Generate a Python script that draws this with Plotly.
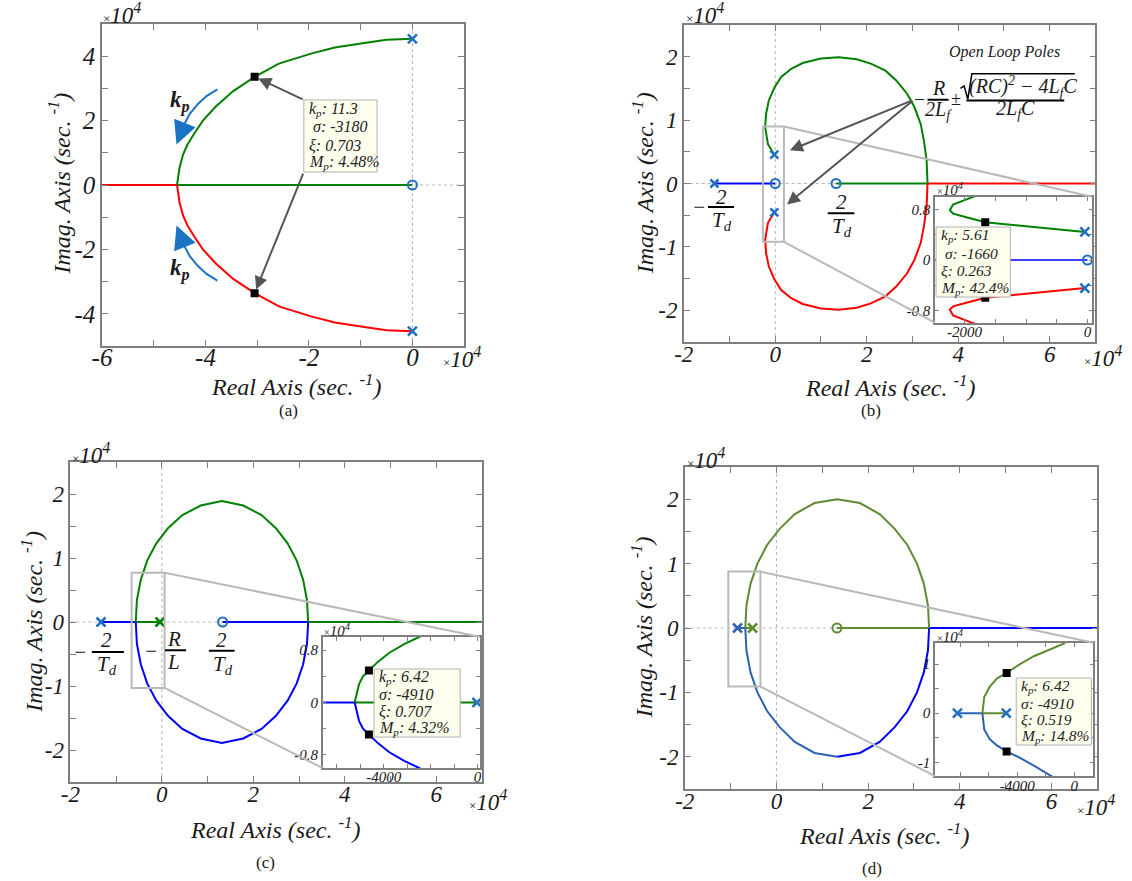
import plotly.graph_objects as go

W, H = 1132, 881
SERIF = "Liberation Serif, Times New Roman, serif"

GREEN, RED, BLUE = "#008000", "#ff0000", "#0000ff"
MBLUE, OLIVE, STEEL = "#1f6fc2", "#5f8b32", "#2c62b0"
KPBLUE = "#1a73c4"
FRAME = "#7f7f7f"
ZGREY = "#b9b9b9"

# ================= DATA =================
# ---- panel (a) ----
a_branch_x = [0.0, -0.5, -0.93, -1.5, -1.96, -2.58, -3.05, -3.47, -3.81, -4.05, -4.22, -4.35, -4.43, -4.50, -4.55]
a_upper_y = [4.54, 4.51, 4.41, 4.27, 4.08, 3.77, 3.36, 2.91, 2.42, 2.0, 1.59, 1.25, 0.96, 0.55, 0.0]
a_lower_y = [-4.54, -4.51, -4.41, -4.27, -4.08, -3.77, -3.36, -2.91, -2.42, -2.0, -1.59, -1.25, -0.96, -0.55, 0.0]
a_real_green_x = [-4.55, 0.0]
a_real_red_x = [-6.0, -4.55]
a_pole_x = [0.0, 0.0]
a_pole_y = [4.54, -4.54]
a_zero_x = [0.0]
a_zero_y = [0.0]
a_sel_x = [-3.05, -3.05]
a_sel_y = [3.36, -3.36]
a_kp_x = [-3.77, -3.98, -4.15, -4.30, -4.40]
a_kp_upper_y = [2.97, 2.76, 2.51, 2.22, 1.92]
a_kp_lower_y = [-2.97, -2.76, -2.51, -2.22, -1.92]
a_kp_tip_x = [-4.56, -4.56]
a_kp_tip_y = [1.26, -1.26]
a_tip = ["k<sub>p</sub>: 11.3", "\u00a0σ: -3180", "ξ: 0.703", "M<sub>p</sub>: 4.48%"]

# ---- panel (b) ----
b_branch_x = [-0.02, -0.16, -0.22, -0.20, -0.14, -0.02, 0.13, 0.35, 0.60, 1.0, 1.39, 1.78, 2.09, 2.41, 2.64, 2.88, 3.04, 3.18, 3.25, 3.31, 3.33]
b_upper_y = [0.455, 0.62, 0.89, 1.10, 1.31, 1.51, 1.68, 1.81, 1.90, 1.97, 1.99, 1.96, 1.89, 1.78, 1.63, 1.42, 1.21, 0.94, 0.68, 0.36, 0.0]
b_lower_y = [-0.455, -0.62, -0.89, -1.10, -1.31, -1.51, -1.68, -1.81, -1.90, -1.97, -1.99, -1.96, -1.89, -1.78, -1.63, -1.42, -1.21, -0.94, -0.68, -0.36, 0.0]
b_real_blue_x = [-1.33, 0.0]
b_real_green_x = [1.33, 3.33]
b_real_red_x = [3.33, 7.0]
b_pole_x = [-1.33, -0.02, -0.02]
b_pole_y = [0.0, 0.455, -0.455]
b_zero_x = [0.0, 1.33]
b_zero_y = [0.0, 0.0]
# inset (b)
bi_branch_x = [-43, -640, -1173, -1664, -1973, -2187, -2240, -2187, -1893, -1750]
bi_upper_y = [0.446, 0.50, 0.55, 0.60, 0.68, 0.735, 0.79, 0.88, 0.99, 1.04]
bi_lower_y = [-0.446, -0.50, -0.55, -0.60, -0.68, -0.735, -0.79, -0.88, -0.99, -1.04]
bi_real_blue_x = [-13300, 0]
bi_pole_x = [-43, -43]
bi_pole_y = [0.446, -0.446]
bi_zero_x = [0]
bi_zero_y = [0.0]
bi_sel_x = [-1664, -1664]
bi_sel_y = [0.60, -0.60]
b_tip = ["k<sub>p</sub>: 5.61", "\u00a0σ: -1660", "ξ: 0.263", "M<sub>p</sub>: 42.4%"]

# ---- panel (c) ----
c_branch_x = [-0.57, -0.545, -0.46, -0.32, -0.12, 0.14, 0.45, 0.85, 1.315, 1.78, 2.18, 2.49, 2.75, 2.95, 3.09, 3.175, 3.2]
c_upper_y = [0.0, 0.34, 0.66, 0.96, 1.23, 1.47, 1.67, 1.82, 1.89, 1.82, 1.67, 1.47, 1.23, 0.96, 0.66, 0.34, 0.0]
c_lower_y = [0.0, -0.34, -0.66, -0.96, -1.23, -1.47, -1.67, -1.82, -1.89, -1.82, -1.67, -1.47, -1.23, -0.96, -0.66, -0.34, 0.0]
c_real_blue1_x = [-1.33, -0.57]
c_real_green1_x = [-0.57, -0.04]
c_real_blue2_x = [1.33, 3.2]
c_real_green2_x = [3.2, 7.0]
c_pole_blue_x = [-1.33]
c_pole_green_x = [-0.04]
c_zero_x = [1.33]
# inset (c)
ci_branch_x = [-5237, -5165, -5050, -4883, -4630, -4250, -3760, -3127, -2495, -2300]
ci_upper_y = [0.0, 0.127, 0.28, 0.40, 0.49, 0.62, 0.76, 0.89, 1.0, 1.04]
ci_lower_y = [0.0, -0.127, -0.28, -0.40, -0.49, -0.62, -0.76, -0.89, -1.0, -1.04]
ci_real_blue_x = [-7000, -5237]
ci_real_green_x = [-5237, -30]
ci_pole_x = [-30]
ci_sel_x = [-4630, -4630]
ci_sel_y = [0.49, -0.49]
c_tip = ["k<sub>p</sub>: 6.42", "σ: -4910", "ξ: 0.707", "M<sub>p</sub>: 4.32%"]

# ---- panel (d) ----
d_branch_x = [-0.68, -0.655, -0.565, -0.415, -0.205, 0.07, 0.40, 0.83, 1.325, 1.82, 2.25, 2.58, 2.855, 3.065, 3.215, 3.305, 3.33]
d_upper_y = [0.0, 0.35, 0.69, 1.0, 1.29, 1.54, 1.77, 1.94, 2.0, 1.94, 1.77, 1.54, 1.29, 1.0, 0.69, 0.35, 0.0]
d_lower_y = [0.0, -0.35, -0.69, -1.0, -1.29, -1.54, -1.77, -1.94, -2.0, -1.94, -1.77, -1.54, -1.29, -1.0, -0.69, -0.35, 0.0]
d_real_steel_x = [-0.85, -0.68]
d_real_olive1_x = [-0.68, -0.52]
d_real_olive2_x = [1.32, 3.33]
d_real_blue_x = [3.33, 7.0]
d_pole_steel_x = [-0.85]
d_pole_olive_x = [-0.52]
d_zero_x = [1.32]
# inset (d)
di_branch_x = [-6450, -6321, -5934, -5418, -4747, -3870, -2838, -1806, -645]
di_upper_y = [0.0, 0.33, 0.54, 0.71, 0.82, 0.99, 1.16, 1.29, 1.43]
di_lower_y = [0.0, -0.33, -0.53, -0.66, -0.78, -0.90, -1.07, -1.26, -1.45]
di_real_steel_x = [-8204, -6450]
di_real_olive_x = [-6450, -4773]
di_pole_x = [-8204, -4773]
di_sel_x = [-4747, -4747]
di_sel_y = [0.82, -0.78]
d_tip = ["k<sub>p</sub>: 6.42", "σ: -4910", "ξ: 0.519", "M<sub>p</sub>: 14.8%"]

# ---- ticks ----
a_xticks = [-6, -5, -4, -3, -2, -1, 0, 1]
a_xlabels = ["-6", "", "-4", "", "-2", "", "0", ""]
a_yticks = [-5, -4, -3, -2, -1, 0, 1, 2, 3, 4, 5]
a_ylabels = ["", "-4", "", "-2", "", "0", "", "2", "", "4", ""]
m_xticks = [-2, -1, 0, 1, 2, 3, 4, 5, 6, 7]
m_xlabels = ["-2", "", "0", "", "2", "", "4", "", "6", ""]
m_yticks = [-2.5, -2, -1.5, -1, -0.5, 0, 0.5, 1, 1.5, 2, 2.5]
m_ylabels = ["", "-2", "", "-1", "", "0", "", "1", "", "2", ""]
bi_xticks = [-2000, -1500, -1000, -500, 0]
bi_xlabels = ["-2000", "", "", "", "0"]
bi_yticks = [-0.8, -0.4, 0, 0.4, 0.8]
bi_ylabels = ["-0.8", "", "0", "", "0.8"]
ci_xticks = [-6000, -5000, -4000, -3000, -2000, -1000, 0]
ci_xlabels = ["", "", "-4000", "", "", "", "0"]
ci_yticks = [-0.8, -0.4, 0, 0.4, 0.8]
ci_ylabels = ["-0.8", "", "0", "", "0.8"]
di_xticks = [-8000, -6000, -4000, -2000, 0]
di_xlabels = ["", "", "-4000", "", "0"]
di_yticks = [-1, -0.5, 0, 0.5, 1]
di_ylabels = ["-1", "", "0", "", "1"]

# ================= FIGURE =================
fig = go.Figure()


def ids(n):
    return ("x", "y") if n == 1 else (f"x{n}", f"y{n}")


def line(xs, ys, color, n, width=2):
    xa, ya = ids(n)
    fig.add_trace(go.Scatter(x=xs, y=ys, mode="lines", line=dict(color=color, width=width),
                             xaxis=xa, yaxis=ya, showlegend=False, hoverinfo="skip"))


def marks(xs, ys, n, kind, color=MBLUE, size=9):
    xa, ya = ids(n)
    if kind == "pole":
        mk = dict(symbol="x-thin", size=size, color=color, line=dict(width=2.5, color=color))
    elif kind == "zero":
        mk = dict(symbol="circle-open", size=size, color=color, line=dict(width=2, color=color))
    else:
        mk = dict(symbol="square", size=8, color="black", line=dict(width=0))
    fig.add_trace(go.Scatter(x=xs, y=ys, mode="markers", marker=mk, xaxis=xa, yaxis=ya,
                             showlegend=False, hoverinfo="skip"))


# panel (a)
line(a_real_red_x, [0, 0], RED, 1)
line(a_real_green_x, [0, 0], GREEN, 1)
line(a_branch_x, a_upper_y, GREEN, 1)
line(a_branch_x, a_lower_y, RED, 1)
line(a_kp_x, a_kp_upper_y, KPBLUE, 1)
line(a_kp_x, a_kp_lower_y, KPBLUE, 1)
marks(a_pole_x, a_pole_y, 1, "pole")
marks(a_zero_x, a_zero_y, 1, "zero")
marks(a_sel_x, a_sel_y, 1, "sel")

# panel (b)
line(b_real_blue_x, [0, 0], BLUE, 2)
line(b_real_green_x, [0, 0], GREEN, 2)
line(b_real_red_x, [0, 0], RED, 2)
line(b_branch_x, b_upper_y, GREEN, 2)
line(b_branch_x, b_lower_y, RED, 2)
marks(b_pole_x, b_pole_y, 2, "pole", size=8)
marks(b_zero_x, b_zero_y, 2, "zero")

# panel (c)
line(c_real_blue1_x, [0, 0], BLUE, 3)
line(c_real_green1_x, [0, 0], GREEN, 3)
line(c_real_blue2_x, [0, 0], BLUE, 3)
line(c_real_green2_x, [0, 0], GREEN, 3)
line(c_branch_x, c_upper_y, GREEN, 3)
line(c_branch_x, c_lower_y, BLUE, 3)
marks(c_pole_blue_x, [0], 3, "pole")
marks(c_pole_green_x, [0], 3, "pole", color=GREEN)
marks(c_zero_x, [0], 3, "zero")

# panel (d)
line(d_real_steel_x, [0, 0], STEEL, 4)
line(d_real_olive1_x, [0, 0], OLIVE, 4)
line(d_real_olive2_x, [0, 0], OLIVE, 4)
line(d_real_blue_x, [0, 0], BLUE, 4)
line(d_branch_x, d_upper_y, OLIVE, 4)
line(d_branch_x[:9], d_lower_y[:9], STEEL, 4)
line(d_branch_x[8:], d_lower_y[8:], BLUE, 4)
marks(d_pole_steel_x, [0], 4, "pole", color=STEEL)
marks(d_pole_olive_x, [0], 4, "pole", color=OLIVE)
marks(d_zero_x, [0], 4, "zero", color=OLIVE)

# inset (b)
line(bi_real_blue_x, [0, 0], BLUE, 5, width=1.5)
line(bi_branch_x, bi_upper_y, GREEN, 5)
line(bi_branch_x, bi_lower_y, RED, 5)
marks(bi_pole_x, bi_pole_y, 5, "pole")
marks(bi_zero_x, bi_zero_y, 5, "zero")
marks(bi_sel_x, bi_sel_y, 5, "sel")

# inset (c)
line(ci_real_blue_x, [0, 0], BLUE, 6)
line(ci_real_green_x, [0, 0], GREEN, 6)
line(ci_branch_x, ci_upper_y, GREEN, 6)
line(ci_branch_x, ci_lower_y, BLUE, 6)
marks(ci_pole_x, [0], 6, "pole")
marks(ci_sel_x, ci_sel_y, 6, "sel")

# inset (d)
line(di_real_steel_x, [0, 0], STEEL, 7)
line(di_real_olive_x, [0, 0], OLIVE, 7)
line(di_branch_x, di_upper_y, OLIVE, 7)
line(di_branch_x, di_lower_y, STEEL, 7)
marks(di_pole_x, [0, 0], 7, "pole")
marks(di_sel_x, di_sel_y, 7, "sel")

# ================= AXES =================
boxes = {1: (93, 459, 24, 346), 2: (681, 1097, 25, 342), 3: (61, 477, 462, 782),
         4: (682, 1099, 467, 789), 5: (935, 1094, 197, 323), 6: (316, 475, 637, 768),
         7: (935, 1095, 643, 776)}
xranges = {1: [-6, 1], 2: [-2, 7], 3: [-2, 7], 4: [-2, 7], 5: [-2480, 80], 6: [-6600, 100], 7: [-9770, 1340]}
yranges = {1: [-5, 5], 2: [-2.5, 2.5], 3: [-2.5, 2.5], 4: [-2.5, 2.5], 5: [-1, 1], 6: [-1, 1], 7: [-1.28, 1.43]}
xt = {1: (a_xticks, a_xlabels), 2: (m_xticks, m_xlabels), 3: (m_xticks, m_xlabels), 4: (m_xticks, m_xlabels),
      5: (bi_xticks, bi_xlabels), 6: (ci_xticks, ci_xlabels), 7: (di_xticks, di_xlabels)}
yt = {1: (a_yticks, a_ylabels), 2: (m_yticks, m_ylabels), 3: (m_yticks, m_ylabels), 4: (m_yticks, m_ylabels),
      5: (bi_yticks, bi_ylabels), 6: (ci_yticks, ci_ylabels), 7: (di_yticks, di_ylabels)}
fsize = {1: 25, 2: 23, 3: 23, 4: 23, 5: 15, 6: 15, 7: 15}
xstand = {1: -12, 2: -9, 3: -9, 4: -9, 5: -6, 6: -6, 7: -5}

lay = {}
for n, (x0, x1, y0, y1) in boxes.items():
    xa, ya = ids(n)
    common = dict(ticks="inside", ticklen=6 if n < 5 else 4, tickwidth=1, tickcolor=FRAME,
                  showline=True, linecolor=FRAME, linewidth=1.5, mirror="allticks",
                  showgrid=False, zeroline=False, fixedrange=True, tickmode="array",
                  tickfont=dict(family=SERIF, size=fsize[n], color="#1a1a1a", style="italic"))
    lay["xaxis" if n == 1 else f"xaxis{n}"] = dict(domain=[x0 / W, x1 / W], range=xranges[n], anchor=ya,
                                                   tickvals=xt[n][0], ticktext=xt[n][1],
                                                   ticklabelstandoff=xstand[n], **common)
    lay["yaxis" if n == 1 else f"yaxis{n}"] = dict(domain=[1 - y1 / H, 1 - y0 / H], range=yranges[n], anchor=xa,
                                                   tickvals=yt[n][0], ticktext=yt[n][1], **common)
fig.update_layout(lay)

# ================= SHAPES =================
for n in range(1, 8):
    xa, ya = ids(n)
    fig.add_shape(type="line", xref=xa, yref=f"{ya} domain", x0=0, x1=0, y0=0, y1=1,
                  line=dict(color="#b5b5b5", width=1, dash="dot"), layer="below")
    fig.add_shape(type="line", xref=f"{xa} domain", yref=ya, x0=0, x1=1, y0=0, y1=0,
                  line=dict(color="#b5b5b5", width=1, dash="dot"), layer="below")

zoom = {2: ((-0.27, 0.19, -0.92, 0.90), (3.50, 6.93, -2.20, -0.21)),
        3: ((-0.66, 0.06, -1.03, 0.77), (3.51, 6.95, -2.28, -0.23)),
        4: ((-1.05, -0.35, -0.91, 0.876), (3.46, 6.92, -2.30, -0.23))}
for n, ((rx0, rx1, ry0, ry1), (ix0, ix1, iy0, iy1)) in zoom.items():
    xa, ya = ids(n)
    st = dict(color=ZGREY, width=2)
    fig.add_shape(type="rect", xref=xa, yref=ya, x0=rx0, x1=rx1, y0=ry0, y1=ry1, line=st, layer="above")
    fig.add_shape(type="line", xref=xa, yref=ya, x0=rx1, y0=ry1, x1=ix1, y1=iy1, line=st, layer="above")
    fig.add_shape(type="line", xref=xa, yref=ya, x0=rx1, y0=ry0, x1=ix0, y1=iy0, line=st, layer="above")


# ================= TEXT =================
def ann_px(x, y, text, size, xanchor="center", yanchor="middle", italic=True, angle=0, color="#1a1a1a"):
    fig.add_annotation(x=x / W, y=1 - y / H, xref="paper", yref="paper", text=text, showarrow=False,
                       xanchor=xanchor, yanchor=yanchor, textangle=angle,
                       font=dict(family=SERIF, size=size, color=color, style="italic" if italic else "normal"))


def ann_d(n, x, y, text, size, xanchor="center", color="#1a1a1a", bold=False):
    xa, ya = ids(n)
    fig.add_annotation(x=x, y=y, xref=xa, yref=ya, text=text, showarrow=False, xanchor=xanchor,
                       font=dict(family=SERIF, size=size, color=color, style="italic",
                                 weight="bold" if bold else "normal"))


def bar(n, x0, x1, y, width=2):
    xa, ya = ids(n)
    fig.add_shape(type="line", xref=xa, yref=ya, x0=x0, x1=x1, y0=y, y1=y,
                  line=dict(color="black", width=width), layer="above")


def tip(left, top, right, bottom, lines, size, pad=3):
    fig.add_shape(type="rect", xref="paper", yref="paper", x0=left / W, x1=right / W,
                  y0=1 - bottom / H, y1=1 - top / H, fillcolor="#ffffee",
                  line=dict(color="#b0b0b0", width=1), layer="above")
    step = (bottom - top) / 4.0
    for i, t in enumerate(lines):
        ann_px(left + pad, top + step * (i + 0.5), t, size, xanchor="left", color="#222222")


def arrow(n, hx, hy, tx, ty, color="#555555", head=2, size=1.3, width=2, standoff=4):
    xa, ya = ids(n)
    fig.add_annotation(x=hx, y=hy, ax=tx, ay=ty, xref=xa, yref=ya, axref=xa, ayref=ya, text="",
                       showarrow=True, arrowhead=head, arrowsize=size, arrowwidth=width, arrowcolor=color,
                       standoff=standoff)


EXP = "<span style='font-size:13px;font-style:normal'>×</span>10<sup>4</sup>"
for (x, y) in [(92, 14), (681, 14), (61, 453), (682, 458)]:
    ann_px(x, y, EXP, 23, xanchor="left")
for (x, y) in [(436, 358), (1083, 356), (462, 800), (1076, 805)]:
    ann_px(x, y, EXP, 23, xanchor="left")
EXPS = "<span style='font-size:10px;font-style:normal'>×</span>10<sup>4</sup>"
for (x, y) in [(935, 189), (315, 630), (935, 636)]:
    ann_px(x, y, EXPS, 15, xanchor="left")

XT = "Real Axis (sec. <sup>-1</sup>)"
YT = "Imag. Axis (sec. <sup>-1</sup>)"
for (x, y) in [(290, 385), (890, 386), (268, 828), (884, 834)]:
    ann_px(x, y, XT, 24)
for (x, y) in [(50, 183), (640, 183), (22, 622), (639, 627)]:
    ann_px(x, y, YT, 24, angle=-90)
for (x, y, t) in [(281, 410, "(a)"), (870, 410, "(b)"), (258, 862, "(c)"), (871, 868, "(d)")]:
    ann_px(x, y, t, 17, italic=False)

# datatips
tip(297, 100, 371, 172, a_tip, 16)
tip(936, 227, 1011, 297, b_tip, 15.5)
tip(368, 669, 455, 737, c_tip, 16)
tip(1017, 678, 1093, 745, d_tip, 15.5)

# (a) arrows and k_p labels
arrow(1, a_sel_x[0], a_sel_y[0], -2.09, 2.64)
arrow(1, a_sel_x[1], a_sel_y[1], -2.10, 0.40)
arrow(1, a_kp_tip_x[0], a_kp_tip_y[0], a_kp_x[-1], a_kp_upper_y[-1], color=KPBLUE, head=2, size=2.3, standoff=0)
arrow(1, a_kp_tip_x[1], a_kp_tip_y[1], a_kp_x[-1], a_kp_lower_y[-1], color=KPBLUE, head=2, size=2.3, standoff=0)
ann_d(1, -4.5, 2.6, "k<sub>p</sub>", 23, bold=True)
ann_d(1, -4.5, -2.62, "k<sub>p</sub>", 23, bold=True)

# (b) arrows, fractions and formula
arrow(2, 0.24, 0.50, 3.03, 1.32)
arrow(2, 0.19, -0.37, 3.03, 1.32)
ann_d(2, -1.66, -0.37, "−", 21)
ann_d(2, -1.18, -0.21, "2", 21)
bar(2, -1.47, -0.90, -0.37)
ann_d(2, -1.16, -0.59, "T<sub>d</sub>", 21)
ann_d(2, 1.45, -0.29, "2", 21)
bar(2, 1.15, 1.73, -0.47)
ann_d(2, 1.45, -0.68, "T<sub>d</sub>", 21)
ann_d(2, 5.01, 2.08, "Open Loop Poles", 16)
ann_d(2, 3.15, 1.32, "−", 19)
ann_d(2, 3.57, 1.50, "R", 20)
bar(2, 3.33, 3.79, 1.32)
ann_d(2, 3.57, 1.15, "2L<sub>f</sub>", 20)
ann_d(2, 3.96, 1.33, "±", 18)
fig.add_shape(type="path", xref="x2", yref="y2", layer="above",
              path="M 4.05,1.50 L 4.13,1.54 L 4.21,1.33 L 4.30,1.73 L 6.55,1.73",
              line=dict(color="black", width=1.5))
ann_d(2, 5.41, 1.53, "(RC)<sup>2</sup> − 4L<sub>f</sub>C", 20)
bar(2, 4.18, 6.32, 1.31)
ann_d(2, 5.25, 1.16, "2L<sub>f</sub>C", 20)

# (c) fractions
ann_d(3, -1.78, -0.47, "−", 21)
ann_d(3, -1.22, -0.28, "2", 21)
bar(3, -1.53, -0.83, -0.47)
ann_d(3, -1.19, -0.67, "T<sub>d</sub>", 21)
ann_d(3, -0.24, -0.45, "−", 21)
ann_d(3, 0.26, -0.27, "R", 21)
bar(3, 0.07, 0.53, -0.44)
ann_d(3, 0.25, -0.62, "L", 21)
ann_d(3, 1.31, -0.28, "2", 21)
bar(3, 1.03, 1.59, -0.45)
ann_d(3, 1.33, -0.67, "T<sub>d</sub>", 21)

fig.update_layout(width=W, height=H, autosize=False, margin=dict(l=0, r=0, t=0, b=0),
                  paper_bgcolor="white", plot_bgcolor="white", showlegend=False)

fig.write_html("out.html", config={"displayModeBar": False},
               post_script="document.body.style.margin='0';document.body.style.padding='0';"
                           "document.body.style.overflow='hidden';")
